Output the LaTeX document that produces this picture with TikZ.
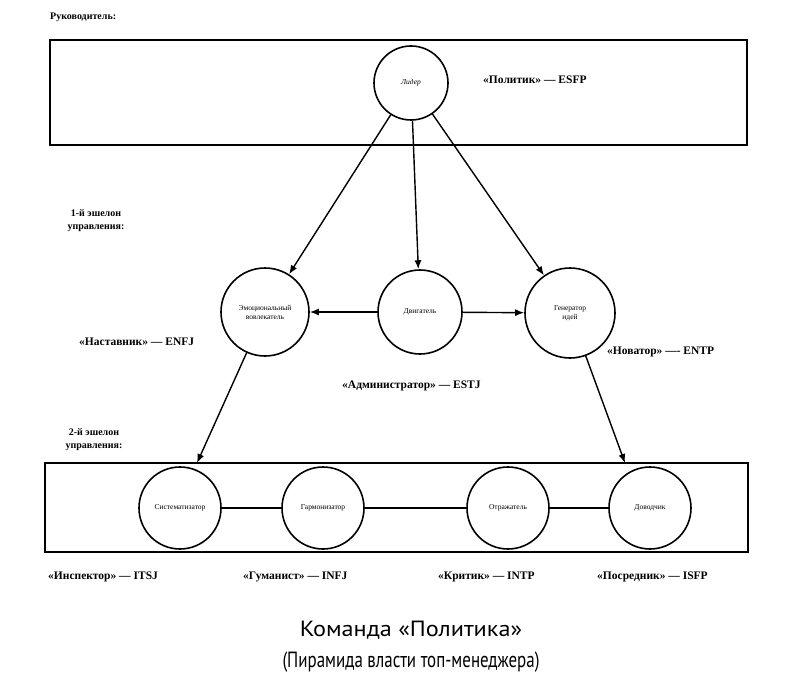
\documentclass[tikz,border=0pt]{standalone}
\usepackage{fontspec}
\setmainfont{Liberation Serif}
\newfontfamily\capfont{PT Sans}
\usetikzlibrary{arrows.meta}
\begin{document}
\begin{tikzpicture}[x={(1pt,0)},y={(0,-1pt)},
  lbl/.style={font=\fontsize{11.5}{13}\selectfont\bfseries, inner sep=0pt},
  small/.style={font=\fontsize{10}{13}\selectfont\bfseries, inner sep=0pt, align=center},
  ring/.style={circle, draw, line width=1.6pt, inner sep=0pt, align=center, font=\fontsize{7.5}{9}\selectfont},
  frame/.style={draw, line width=1.6pt},
  arr/.style={line width=1.4pt, -{Latex[length=9pt,width=7pt]}},
  link/.style={line width=1.1pt}]
\fill[white] (0,0) rectangle (800,690);
\useasboundingbox (0,0) rectangle (800,690);

\node[lbl, anchor=west, font=\fontsize{10}{12}\selectfont\bfseries] (head) at (50,17) {Руководитель:};
\draw[frame] (50,40) rectangle (747,145);

\node[ring, minimum size=74pt] (lead) at (411,83) {\itshape Лидер};
\node[lbl, anchor=west] (esfp) at (483,80) {«Политик» — ESFP};

\node[small] (e1) at (96,221) {1-й эшелон\\управления:};

\node[ring, minimum size=88pt] (emo) at (265,312) {Эмоциональный\\вовлекатель};
\node[ring, minimum size=84pt] (dv) at (420,312) {Двигатель};
\node[ring, minimum size=90pt] (gen) at (570,313) {Генератор\\идей};

\node[lbl, anchor=west] (enfj) at (79,342) {«Наставник» — ENFJ};
\node[lbl, anchor=west] (estj) at (342,386) {«Администратор» — ESTJ};
\node[lbl, anchor=west] (entp) at (607,352) {«Новатор» —- ENTP};

\node[small] (e2) at (94,440) {2-й эшелон\\управления:};

\draw[frame] (45,463) rectangle (748,552);
\coordinate (inL) at (197,463);
\coordinate (inR) at (625,463);

\node[ring, minimum size=82pt] (sys) at (180,508) {Систематизатор};
\node[ring, minimum size=82pt] (harm) at (323,508) {Гармонизатор};
\node[ring, minimum size=82pt] (refl) at (508,508) {Отражатель};
\node[ring, minimum size=82pt] (fin) at (650,508) {Доводчик};

\node[lbl, anchor=west] (l1) at (48,577) {«Инспектор» — ITSJ};
\node[lbl, anchor=west] (l2) at (243,577) {«Гуманист» — INFJ};
\node[lbl, anchor=west] (l3) at (438,577) {«Критик» — INTP};
\node[lbl, anchor=west] (l4) at (597,577) {«Посредник» — ISFP};

\node[font=\capfont\fontsize{22}{24}\selectfont, inner sep=0pt, xscale=1.1] (c1) at (411,630) {Команда «Политика»};
\node[font=\capfont\fontsize{22}{24}\selectfont, inner sep=0pt, xscale=0.77] (c2) at (411,662) {(Пирамида власти топ-менеджера)};

\draw[arr] (lead) -- (emo);
\draw[arr] (lead) -- (dv);
\draw[arr] (lead) -- (gen);
\draw[arr] (dv) -- (emo);
\draw[arr] (dv) -- (gen);
\draw[arr] (emo) -- (inL);
\draw[arr] (gen) -- (inR);

\draw[link] (sys) -- (harm);
\draw[link] (harm) -- (refl);
\draw[link, line width=1.7pt] (refl) -- (fin);
\end{tikzpicture}
\end{document}
